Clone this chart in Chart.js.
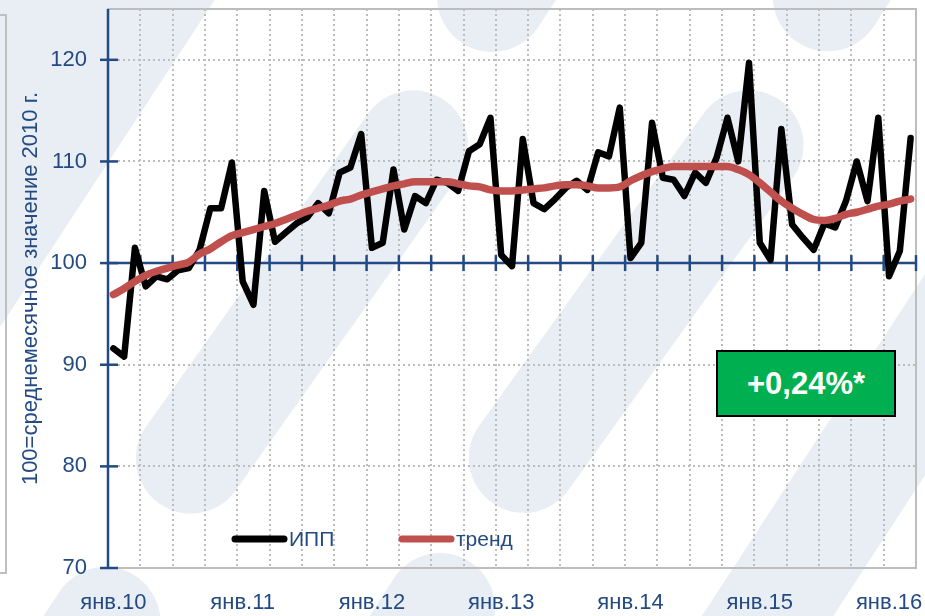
<!DOCTYPE html>
<html>
<head>
<meta charset="utf-8">
<script src="https://cdn.jsdelivr.net/npm/chart.js@4.4.0/dist/chart.umd.min.js"></script>
<style>
  html, body { margin: 0; padding: 0; background: #fff; }
  #wrap { position: relative; width: 925px; height: 616px; overflow: hidden; font-family: 'Liberation Sans', Arial, sans-serif; }
  .band { position: absolute; background: #E9EDF4; }
  #side { position: absolute; left: -2px; top: 14px; width: 7px; height: 556px; border-top: 2px solid #BFBFBF; border-right: 2px solid #BFBFBF; border-bottom: 2px solid #BFBFBF; }
  canvas { position: absolute; left: 0; top: 0; }
  #badge { position: absolute; left: 716px; top: 350px; width: 176px; height: 63px; background: #00B050; border: 2px solid #000;
           color: #fff; font-weight: bold; font-size: 31px; display: flex; align-items: center; justify-content: center; }
</style>
</head>
<body>
<div id="wrap">
  <div id="side"></div>
  <canvas id="chart" width="925" height="616"></canvas>
  <div id="badge">+0,24%*</div>
</div>
<script>
// months jan 2010 .. mar 2016
var months = ['янв', 'фев', 'мар', 'апр', 'май', 'июн', 'июл', 'авг', 'сен', 'окт', 'ноя', 'дек'];
var categories = [];
for (var i = 0; i < 75; i++) {
    categories.push(months[i % 12] + '.' + (10 + Math.floor(i / 12)));
}

var ipp = [91.6, 90.8, 101.5, 97.7, 98.7, 98.4, 99.3, 99.5, 101.3, 105.4,
           105.4, 109.9, 98.2, 95.9, 107.1, 102.1, 103.0, 103.9, 104.5, 105.9,
           104.9, 108.9, 109.4, 112.7, 101.5, 102.0, 109.2, 103.3, 106.6, 105.9,
           108.2, 107.9, 107.1, 111.0, 111.7, 114.3, 100.8, 99.7, 112.2, 105.9,
           105.3, 106.3, 107.4, 108.1, 107.2, 110.9, 110.5, 115.3, 100.5, 102.0,
           113.8, 108.4, 108.2, 106.6, 108.9, 107.9, 110.4, 114.3, 110.0, 119.7,
           102.0, 100.3, 113.2, 103.8, 102.5, 101.3, 103.9, 103.5, 106.1, 110.0,
           106.1, 114.3, 98.7, 101.2, 112.3];

var trend = [96.9, 97.5, 98.2, 98.8, 99.2, 99.5, 99.8, 100.1, 100.9, 101.4,
             102.1, 102.7, 103.0, 103.3, 103.6, 103.9, 104.3, 104.7, 105.1, 105.4,
             105.7, 106.1, 106.3, 106.7, 107.0, 107.3, 107.6, 107.8, 108.0, 108.0,
             108.0, 108.0, 107.8, 107.6, 107.5, 107.2, 107.1, 107.1, 107.2, 107.3,
             107.4, 107.6, 107.7, 107.7, 107.6, 107.4, 107.4, 107.5, 108.1, 108.6,
             109.0, 109.3, 109.5, 109.5, 109.5, 109.5, 109.5, 109.5, 109.2, 108.7,
             107.9, 107.0, 106.1, 105.4, 104.8, 104.3, 104.2, 104.4, 104.8, 105.0,
             105.3, 105.6, 105.8, 106.1, 106.3];

var yTicks = [70, 80, 90, 100, 110, 120];

var blue = '#234A83';
var grey = '#BDBDBD';
var font = "'Liberation Sans', Arial, sans-serif";

// pale watermark strokes behind the chart: [x1, y1, x2, y2, width]
var bands = [
    [-79, 265, 180, -130, 200],
    [191, 458, 413, 145, 110],
    [523, 458, 748, 145, 110],
    [492, -3, 720, -350, 110],
    [827, -3, 1050, -350, 110],
    [440, 608, 220, 950, 110],
    [105, 622, -120, 960, 110],
    [700, 720, 1000, 260, 110]
];
bands.forEach(function (b) {
    var dx = b[2] - b[0], dy = b[3] - b[1];
    var len = Math.sqrt(dx * dx + dy * dy) + b[4];
    var el = document.createElement('div');
    el.className = 'band';
    el.style.width = b[4] + 'px';
    el.style.height = len + 'px';
    el.style.borderRadius = (b[4] / 2) + 'px';
    el.style.left = ((b[0] + b[2]) / 2 - b[4] / 2) + 'px';
    el.style.top = ((b[1] + b[3]) / 2 - len / 2) + 'px';
    el.style.transform = 'rotate(' + (Math.atan2(dx, -dy) * 180 / Math.PI) + 'deg)';
    document.getElementById('wrap').insertBefore(el, document.getElementById('side'));
});

function seg(ctx, x1, y1, x2, y2) {
    ctx.beginPath();
    ctx.moveTo(x1, y1);
    ctx.lineTo(x2, y2);
    ctx.stroke();
}

function noPad(s) {
    s.paddingTop = 0;
    s.paddingBottom = 0;
    s.paddingLeft = 0;
    s.paddingRight = 0;
}

var frame = {
    id: 'frame',
    beforeDatasetsDraw: function (chart) {
        var ctx = chart.ctx, a = chart.chartArea;
        var x = chart.scales.x, y = chart.scales.y;
        ctx.save();
        ctx.strokeStyle = grey;
        ctx.lineWidth = 2;
        ctx.strokeRect(a.left, a.top, a.right - a.left, a.bottom - a.top);
        ctx.strokeStyle = blue;
        ctx.lineWidth = 2.5;
        seg(ctx, a.left, a.top, a.left, a.bottom);
        yTicks.forEach(function (v) {
            var py = y.getPixelForValue(v);
            seg(ctx, a.left - 8, py, a.left + 10, py);
        });
        var base = y.getPixelForValue(100);
        seg(ctx, a.left, base, a.right, base);
        for (var i = 3; i <= categories.length; i += 3) {
            var px = x.getPixelForValue(i - 0.5);
            seg(ctx, px, base - 8, px, base + 8);
        }
        ctx.restore();
    },
    afterDatasetsDraw: function (chart) {
        // legend sits inside the plot, near the bottom
        var ctx = chart.ctx;
        var starts = [232, 399];
        ctx.save();
        chart.data.datasets.forEach(function (ds, i) {
            var lx = starts[i], ly = 539;
            ctx.strokeStyle = ds.borderColor;
            ctx.lineWidth = 7;
            ctx.lineCap = 'round';
            seg(ctx, lx + 3, ly, lx + 52, ly);
            ctx.fillStyle = blue;
            ctx.font = '21px ' + font;
            ctx.textBaseline = 'middle';
            ctx.fillText(ds.label, lx + 57, ly + 1);
        });
        ctx.restore();
    }
};

new Chart(document.getElementById('chart').getContext('2d'), {
    type: 'line',
    data: {
        labels: categories,
        datasets: [{
            label: 'ИПП',
            data: ipp,
            borderColor: '#000000',
            borderWidth: 6.5,
            tension: 0,
            pointRadius: 0,
            borderJoinStyle: 'round',
            borderCapStyle: 'round',
            order: 1
        }, {
            label: 'тренд',
            data: trend,
            borderColor: '#C0504D',
            borderWidth: 7.5,
            cubicInterpolationMode: 'monotone',
            pointRadius: 0,
            borderCapStyle: 'round',
            order: 0
        }]
    },
    options: {
        responsive: false,
        animation: false,
        devicePixelRatio: 1,
        layout: { padding: { top: 9, right: 9, left: 0, bottom: 0 } },
        plugins: { legend: { display: false }, tooltip: { enabled: false } },
        scales: {
            x: {
                offset: true,
                afterFit: function (s) { s.height = 48; noPad(s); },
                grid: {
                    offset: true,
                    drawTicks: false,
                    lineWidth: 2,
                    color: function (c) { return (c.index > 0 && c.index % 3 === 0) ? grey : 'rgba(0,0,0,0)'; }
                },
                border: { display: false, dash: [2, 3] },
                ticks: {
                    autoSkip: false,
                    maxRotation: 0,
                    minRotation: 0,
                    padding: 22,
                    color: blue,
                    font: { family: font, size: 22 },
                    callback: function (v, i) { return i % 12 === 0 ? categories[i] : ''; }
                }
            },
            y: {
                min: 70,
                max: 125,
                afterFit: function (s) { s.width = 108; noPad(s); },
                afterBuildTicks: function (s) { s.ticks = yTicks.map(function (v) { return { value: v }; }); },
                grid: {
                    drawTicks: false,
                    lineWidth: 2,
                    color: function (c) { return (c.tick && c.tick.value !== 70 && c.tick.value !== 100) ? grey : 'rgba(0,0,0,0)'; }
                },
                border: { display: false, dash: [2, 3] },
                ticks: {
                    padding: 21,
                    color: blue,
                    font: { family: font, size: 22 }
                },
                title: {
                    display: true,
                    text: '100=среднемесячное значение 2010 г.',
                    color: blue,
                    font: { family: font, size: 22 },
                    padding: { top: 18, bottom: 0 }
                }
            }
        }
    },
    plugins: [frame]
});
</script>
</body>
</html>
